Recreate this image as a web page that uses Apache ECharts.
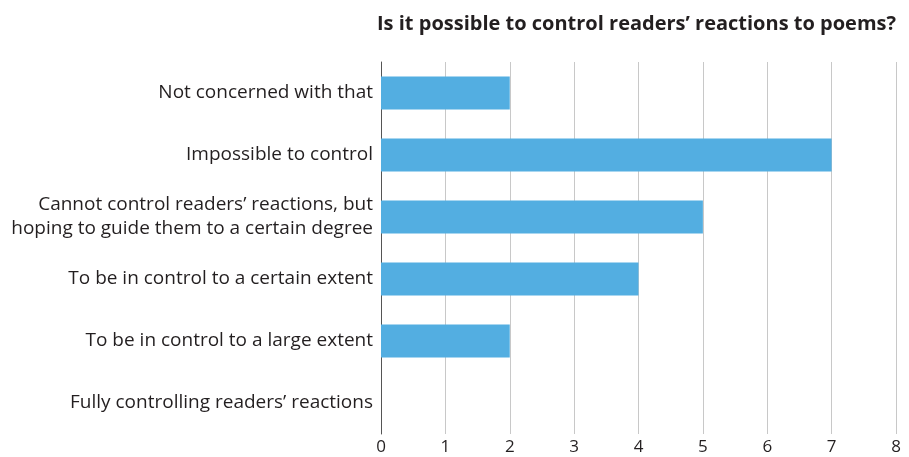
<!DOCTYPE html>
<html>
<head>
<meta charset="UTF-8">
<title>Control readers' reactions</title>
<script src="https://cdn.jsdelivr.net/npm/echarts@6/dist/echarts.min.js"></script>
<style>
  html, body { margin: 0; padding: 0; background: #fff; }
</style>
</head>
<body>
<div id="chart" style="width: 909px; height: 457px;"></div>
<script type="text/javascript">
var categories = [
  'Not concerned with that',
  'Impossible to control',
  'Cannot control readers\u2019 reactions, but\nhoping to guide them to a certain degree',
  'To be in control to a certain extent',
  'To be in control to a large extent',
  'Fully controlling readers\u2019 reactions'
];
var counts = [2, 7, 5, 4, 2, 0];
var xTicks = [0, 1, 2, 3, 4, 5, 6, 7, 8];

var chart = echarts.init(document.getElementById('chart'));

chart.setOption({
  animation: false,
  title: {
    text: 'Is it possible to control readers\u2019 reactions to poems?',
    right: 8,
    top: 9,
    textStyle: {
      fontFamily: 'Open Sans',
      fontSize: 20,
      fontWeight: 'bold',
      color: '#231f20'
    }
  },
  grid: {
    left: 381,
    right: 13,
    top: 62,
    bottom: 23
  },
  xAxis: {
    type: 'value',
    min: xTicks[0],
    max: xTicks[xTicks.length - 1],
    interval: 1,
    axisLine: { show: false },
    axisTick: { show: false },
    splitLine: { show: true, lineStyle: { color: '#c8c8c8', width: 1 } },
    axisLabel: {
      margin: 5,
      fontFamily: 'Open Sans',
      fontSize: 17,
      color: '#231f20'
    }
  },
  yAxis: {
    type: 'category',
    inverse: true,
    data: categories,
    axisLine: { show: true, lineStyle: { color: '#555555', width: 1 } },
    axisTick: { show: false },
    axisLabel: {
      margin: 8,
      fontFamily: 'Open Sans',
      fontSize: 19,
      lineHeight: 24,
      color: '#231f20',
      align: 'right'
    }
  },
  series: [{
    type: 'bar',
    data: counts,
    barWidth: 33,
    itemStyle: { color: '#53aee1' }
  }]
});
</script>
</body>
</html>
